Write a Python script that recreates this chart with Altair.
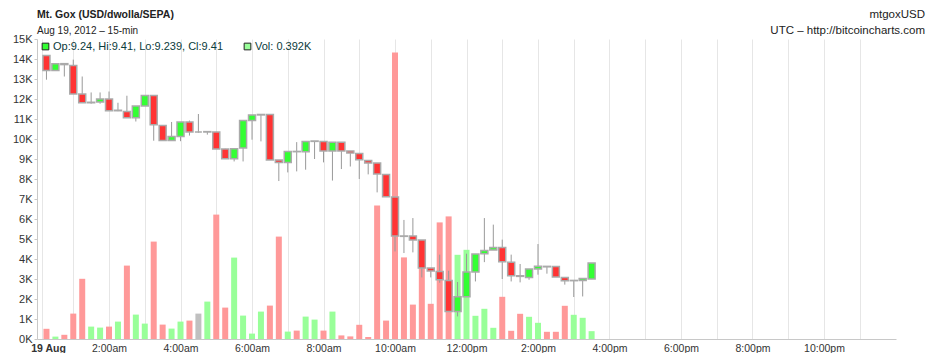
import altair as alt
import pandas as pd
import numpy as np

# 15-minute candles, Mt. Gox USD, 19 Aug 2012 (first candle 00:15 UTC)
opens = [11.625, 11.465, 11.537, 11.518, 11.213, 11.12, 11.128, 11.16, 11.035, 11.028,
         10.96, 11.085, 11.198, 10.878, 10.718, 10.761, 10.915, 10.808, 10.808, 10.808,
         10.627, 10.523, 10.637, 10.932, 10.99, 10.995, 10.509, 10.484, 10.601, 10.598,
         10.708, 10.708, 10.605, 10.70, 10.605, 10.58, 10.505, 10.477, 10.356, 10.115,
         9.699, 9.699, 9.656, 9.357, 9.321, 9.225, 8.894, 9.051, 9.315, 9.51,
         9.55, 9.577, 9.42, 9.275, 9.257, 9.347, 9.375, 9.374, 9.257, 9.222,
         9.225, 9.24]
highs = [11.625, 11.54, 11.54, 11.58, 11.40, 11.23, 11.23, 11.24, 11.12, 11.195,
         11.085, 11.2, 11.2, 10.88, 10.915, 10.915, 10.93, 11.0, 10.815, 10.81,
         10.63, 10.63, 10.932, 10.99, 10.995, 10.995, 10.509, 10.601, 10.70, 10.708,
         10.712, 10.708, 10.70, 10.70, 10.605, 10.58, 10.505, 10.477, 10.356, 10.115,
         9.87, 9.89, 9.656, 9.357, 9.50, 9.328, 9.208, 9.51, 9.507, 9.89,
         9.82, 9.66, 9.5, 9.40, 9.347, 9.613, 9.375, 9.374, 9.257, 9.225,
         9.246, 9.41]
lows = [11.366, 11.465, 11.40, 11.213, 11.12, 11.11, 11.11, 11.035, 11.03, 10.96,
        10.92, 11.085, 10.715, 10.718, 10.718, 10.71, 10.77, 10.80, 10.78, 10.627,
        10.523, 10.494, 10.494, 10.726, 10.708, 10.509, 10.285, 10.377, 10.388, 10.406,
        10.52, 10.484, 10.29, 10.413, 10.44, 10.307, 10.356, 10.164, 10.118, 9.534,
        9.517, 9.524, 9.257, 9.257, 9.20, 8.894, 8.841, 9.051, 9.214, 9.42,
        9.55, 9.24, 9.214, 9.204, 9.232, 9.286, 9.297, 9.261, 9.18, 9.048,
        9.054, 9.239]
closes = [11.465, 11.537, 11.527, 11.213, 11.12, 11.125, 11.16, 11.035, 11.04, 10.96,
          11.085, 11.198, 10.886, 10.718, 10.761, 10.915, 10.808, 10.808, 10.812, 10.627,
          10.523, 10.63, 10.932, 10.99, 10.995, 10.509, 10.484, 10.601, 10.598, 10.708,
          10.712, 10.605, 10.70, 10.605, 10.584, 10.512, 10.477, 10.36, 10.118, 9.699,
          9.695, 9.656, 9.357, 9.325, 9.232, 8.894, 9.051, 9.315, 9.507, 9.545,
          9.577, 9.425, 9.275, 9.268, 9.347, 9.375, 9.37, 9.261, 9.222, 9.225,
          9.246, 9.41]
volumes_k = [0.51, 0.12, 0.21, 1.27, 3.01, 0.62, 0.57, 0.62, 0.87, 3.67,
             1.22, 0.77, 4.87, 0.72, 0.52, 0.87, 0.92, 1.27, 1.87, 6.22,
             1.57, 4.07, 1.17, 0.27, 1.37, 1.67, 5.12, 0.37, 0.42, 1.12,
             0.97, 0.42, 1.37, 0.18, 0.13, 0.71, 0.10, 6.67, 0.92, 14.33,
             4.08, 1.72, 4.5, 1.76, 5.83, 6.13, 4.21, 4.46, 1.16, 1.51,
             0.56, 2.11, 0.41, 1.26, 1.11, 0.81, 0.36, 0.36, 1.66, 1.21,
             1.06, 0.392]

vol_ticks = list(range(0, 15001, 1000))
price_ticks = [round(8.6 + 0.2 * k, 1) for k in range(17)]

FONT = "Liberation Sans"

n = len(opens)
times = pd.date_range("2012-08-19 00:15", periods=n, freq="15min")
df = pd.DataFrame({
    "t": times.strftime("%Y-%m-%dT%H:%M:%SZ"),
    "open": opens, "high": highs, "low": lows, "close": closes,
    "vol": [v * 1000 for v in volumes_k],
})
df["dir"] = np.where(df["close"] > df["open"], "up",
                     np.where(df["close"] < df["open"], "down", "flat"))


def dt(h, m=0, s=0):
    return alt.DateTime(year=2012, month=8, date=19, hours=h, minutes=m, seconds=s, utc=True)


x_enc = alt.X(
    "t:T",
    scale=alt.Scale(type="utc", domain=[dt(0, 7, 30), dt(23, 52, 30)]),
    axis=alt.Axis(
        title=None,
        values=[dt(0, 7, 30)] + [dt(h) for h in range(1, 24)],
        labelExpr="utchours(datum.value) == 0 ? '19 Aug' : (utchours(datum.value) % 2 == 0 ? lower(utcFormat(datum.value, '%-I:%M%p')) : '')",
        labelFontWeight=alt.condition("utchours(datum.value) == 0", alt.value("bold"), alt.value("normal")),
        labelOffset=alt.condition("utchours(datum.value) == 0", alt.value(6), alt.value(0)),
        labelFlush=False,
        labelOverlap=False,
        tickSize=0,
        labelPadding=4,
        labelFontSize=10.5,
        grid=True,
        gridColor="#e6e6e6",
        domainColor="#c8c8c8",
    ),
)

base = alt.Chart(df)

vol = base.mark_bar(size=6).encode(
    x=x_enc,
    y=alt.Y("vol:Q", scale=alt.Scale(domain=[0, 15000], nice=False, zero=True),
            axis=alt.Axis(title=None, orient="left", values=vol_ticks,
                          labelExpr="(datum.value / 1000) + 'K'", grid=False,
                          tickSize=3, tickColor="#c8c8c8", domainColor="#c8c8c8",
                          labelPadding=2, labelFontSize=11)),
    color=alt.Color("dir:N", legend=None,
                    scale=alt.Scale(domain=["up", "down", "flat"],
                                    range=["#99ff99", "#ff9999", "#c0c0c0"])),
)

price_y = alt.Y("low:Q", scale=alt.Scale(domain=[8.6, 11.8], nice=False, zero=False),
                axis=alt.Axis(title=None, orient="right", values=price_ticks, format=".1f",
                              grid=True, gridColor="#e6e6e6", tickSize=4,
                              tickColor="#c8c8c8", domainColor="#c8c8c8",
                              labelPadding=2, labelFontSize=11))

wick = base.mark_rule(color="#999999", strokeWidth=1).encode(
    x=x_enc, y=price_y, y2="high:Q")

body = base.mark_bar(size=7, stroke="#aaaaaa", strokeWidth=1.5).encode(
    x=x_enc,
    y=alt.Y("open:Q", scale=alt.Scale(domain=[8.6, 11.8], nice=False, zero=False), axis=None),
    y2="close:Q",
    color=alt.Color("dir:N", legend=None,
                    scale=alt.Scale(domain=["up", "down", "flat"],
                                    range=["#33ff33", "#ff3333", "#bbbbbb"])),
)

price = alt.layer(wick, body)

legend_df = pd.DataFrame({
    "txt": [f"Op:{opens[-1]}, Hi:{highs[-1]}, Lo:{lows[-1]}, Cl:{closes[-1]}",
            f"Vol: {volumes_k[-1]}K"],
})

leg_sq1 = alt.Chart(legend_df.iloc[[0]]).mark_square(size=45, fill="#33ff33", stroke="#222222",
                                                     strokeWidth=1, opacity=1).encode(
    x=alt.value(8.5), y=alt.value(7.5))
leg_tx1 = alt.Chart(legend_df.iloc[[0]]).mark_text(align="left", baseline="middle", font=FONT,
                                                   fontSize=11, color="#0b3b3b").encode(
    x=alt.value(16), y=alt.value(8), text="txt:N")
leg_sq2 = alt.Chart(legend_df.iloc[[1]]).mark_square(size=45, fill="#99ff99", stroke="#222222",
                                                     strokeWidth=1, opacity=1).encode(
    x=alt.value(210.5), y=alt.value(7.5))
leg_tx2 = alt.Chart(legend_df.iloc[[1]]).mark_text(align="left", baseline="middle", font=FONT,
                                                   fontSize=11, color="#0b3b3b").encode(
    x=alt.value(218), y=alt.value(8), text="txt:N")

head_df = pd.DataFrame({"txt": ["Mt. Gox (USD/dwolla/SEPA)", "Aug 19, 2012 \u2013 15-min",
                                "mtgoxUSD", "UTC \u2013 http://bitcoincharts.com"]})
title_l = alt.Chart(head_df.iloc[[0]]).mark_text(align="left", baseline="middle", font=FONT,
                                                 fontSize=10.5, fontWeight="bold", color="#222222").encode(
    x=alt.value(0), y=alt.value(-24), text="txt:N")
sub_l = alt.Chart(head_df.iloc[[1]]).mark_text(align="left", baseline="middle", font=FONT,
                                               fontSize=10, color="#222222").encode(
    x=alt.value(0), y=alt.value(-8), text="txt:N")
title_r = alt.Chart(head_df.iloc[[2]]).mark_text(align="right", baseline="middle", font=FONT,
                                                 fontSize=11.5, color="#222222").encode(
    x=alt.value(888), y=alt.value(-24), text="txt:N")
sub_r = alt.Chart(head_df.iloc[[3]]).mark_text(align="right", baseline="middle", font=FONT,
                                               fontSize=11.5, color="#222222").encode(
    x=alt.value(888), y=alt.value(-8), text="txt:N")

chart = alt.layer(
    vol, price, leg_sq1, leg_tx1, leg_sq2, leg_tx2, title_l, sub_l, title_r, sub_r
).resolve_scale(
    y="independent", color="independent"
).properties(
    width=859, height=300,
    autosize=alt.AutoSizeParams(type="none"),
    padding={"left": 29, "top": 31, "right": 33, "bottom": 14},
).configure_view(
    stroke=None
).configure_axis(
    labelFont=FONT, labelColor="#333333"
)

chart.save("out.html", embed_options={"renderer": "svg", "actions": False})
